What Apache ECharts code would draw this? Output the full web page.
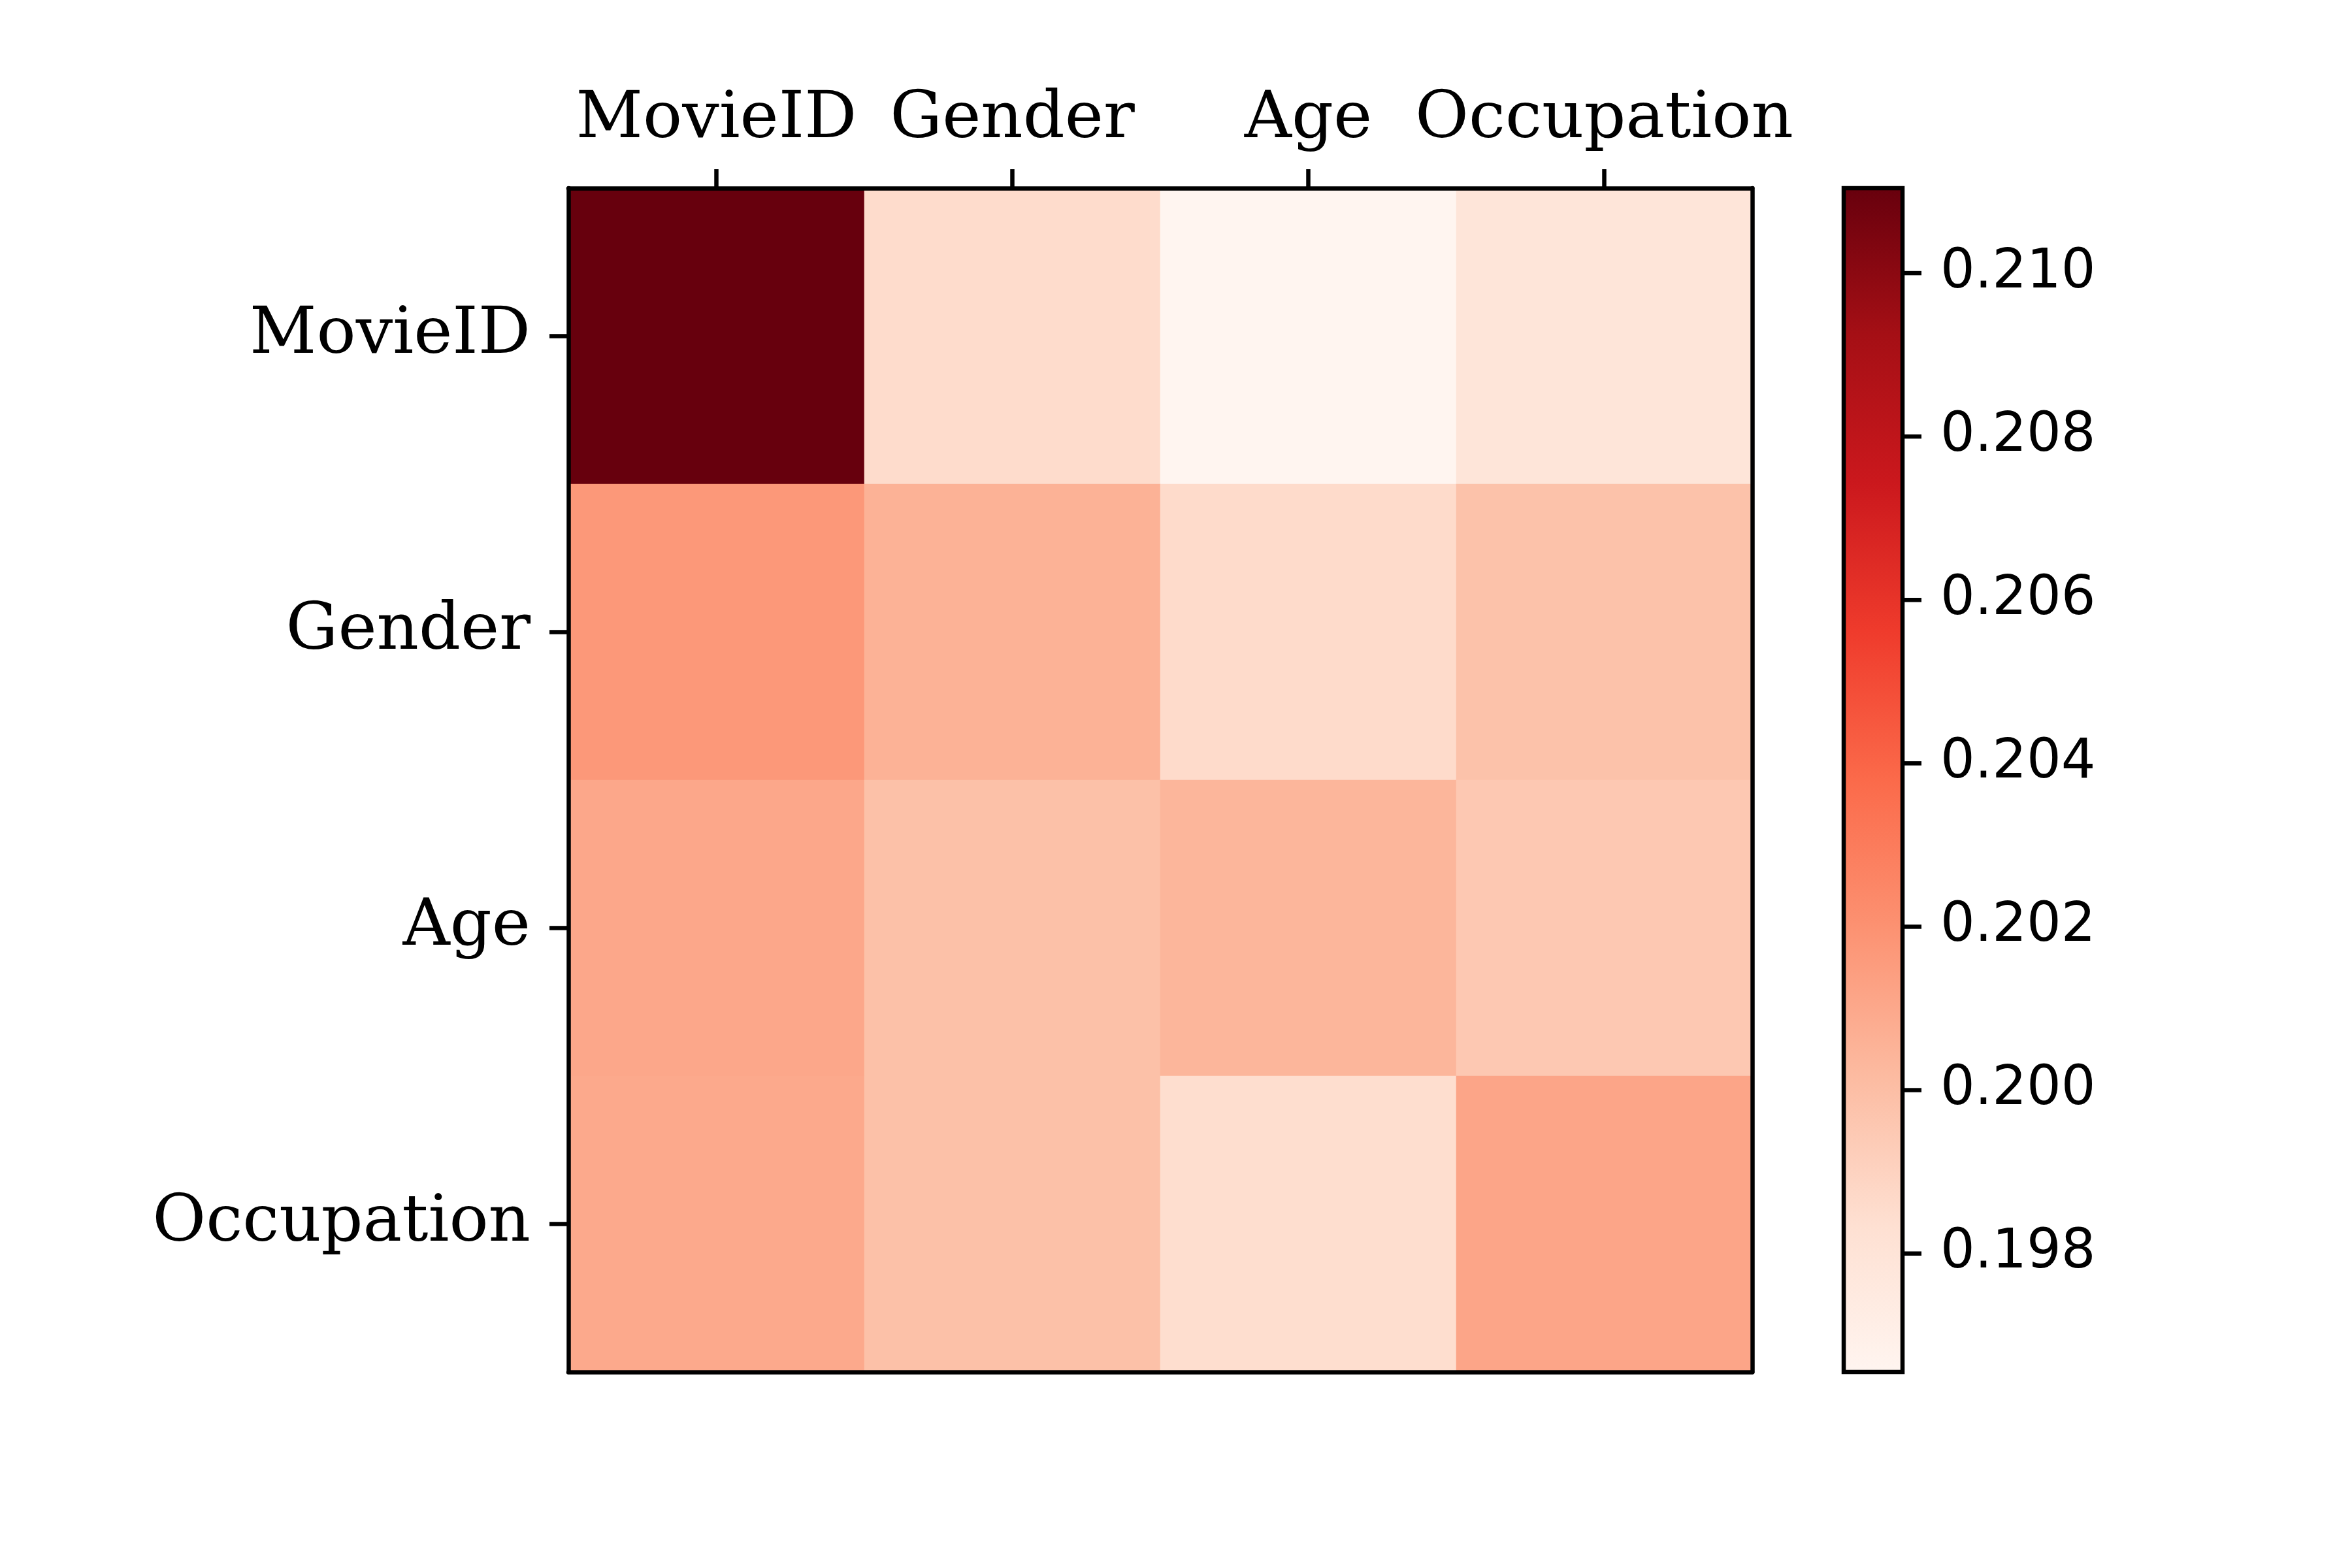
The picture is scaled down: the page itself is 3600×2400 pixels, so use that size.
<!DOCTYPE html>
<html>
<head>
    <meta charset="utf-8">
    <script src="https://cdn.jsdelivr.net/npm/echarts@6.0.0/dist/echarts.min.js"></script>
    <style>
        html, body { margin: 0; padding: 0; background: #fff; }
    </style>
</head>
<body>
<div id="main" style="width: 3600px;height:2400px;"></div>
<script type="text/javascript">
    // feature names (columns along the top, rows down the left)
    var features = ['MovieID', 'Gender', 'Age', 'Occupation'];

    // attention weights, one array per row
    var rowMovieID    = [0.21104, 0.19858, 0.19655, 0.19794];
    var rowGender     = [0.20173, 0.20058, 0.19862, 0.19984];
    var rowAge        = [0.20107, 0.19990, 0.20040, 0.19955];
    var rowOccupation = [0.20098, 0.19990, 0.19848, 0.20115];

    // colorbar tick labels
    var cbTicks = [0.198, 0.200, 0.202, 0.204, 0.206, 0.208, 0.210];

    // matplotlib "Reds"
    var reds = ['#fff5f0', '#fee0d2', '#fcbba1', '#fc9272', '#fb6a4a',
                '#ef3b2c', '#cb181d', '#a50f15', '#67000d'];

    var rows = [rowMovieID, rowGender, rowAge, rowOccupation];
    var cells = [];
    var all = [];
    rows.forEach(function (r, y) {
        r.forEach(function (v, x) {
            cells.push([x, y, v]);
            all.push(v);
        });
    });
    var vmin = Math.min.apply(null, all);
    var vmax = Math.max.apply(null, all);

    var lw = 6.5;       // ~0.8pt at 600 dpi
    var tickLen = 29;   // 3.5pt
    var serif = 'DejaVu Serif';
    var sans = 'DejaVu Sans';

    var gradStops = reds.map(function (c, i) {
        return { offset: 1 - i / (reds.length - 1), color: c };
    });

    var myChart = echarts.init(document.getElementById('main'));

    var option = {
        backgroundColor: '#fff',
        animation: false,
        grid: [
            { left: 870, top: 288, width: 1812, height: 1812 },
            { left: 2822, top: 288, width: 90, height: 1812 }
        ],
        xAxis: [
            {
                type: 'category', data: features, position: 'top', gridIndex: 0, z: 10,
                axisLine: { show: true, lineStyle: { color: '#000', width: lw } },
                axisTick: { show: true, alignWithLabel: true, length: tickLen, lineStyle: { color: '#000', width: lw } },
                axisLabel: { interval: 0, hideOverlap: false, margin: 54, fontSize: 100, fontFamily: serif, color: '#000' },
                splitLine: { show: false }
            },
            {
                type: 'category', data: features, position: 'bottom', gridIndex: 0, z: 10,
                axisLine: { show: true, lineStyle: { color: '#000', width: lw } },
                axisTick: { show: false }, axisLabel: { show: false }
            },
            {
                type: 'value', min: 0, max: 1, gridIndex: 1, show: false
            }
        ],
        yAxis: [
            {
                type: 'category', data: features, inverse: true, position: 'left', gridIndex: 0, z: 10,
                axisLine: { show: true, lineStyle: { color: '#000', width: lw } },
                axisTick: { show: true, alignWithLabel: true, length: tickLen, lineStyle: { color: '#000', width: lw } },
                axisLabel: { interval: 0, margin: 58, fontSize: 100, fontFamily: serif, color: '#000' },
                splitLine: { show: false }
            },
            {
                type: 'category', data: features, inverse: true, position: 'right', gridIndex: 0, z: 10,
                axisLine: { show: true, lineStyle: { color: '#000', width: lw } },
                axisTick: { show: false }, axisLabel: { show: false }
            },
            {
                type: 'value', gridIndex: 1, position: 'right', min: vmin, max: vmax, z: 10,
                axisLine: { show: false },
                splitLine: { show: false },
                axisTick: { show: false },
                axisLabel: { margin: 58, fontSize: 83, fontFamily: sans, color: '#000',
                             customValues: cbTicks,
                             formatter: function (v) { return v.toFixed(3); } }
            }
        ],
        visualMap: {
            show: false,
            type: 'continuous',
            seriesIndex: 0,
            dimension: 2,
            min: vmin,
            max: vmax,
            inRange: { color: reds }
        },
        series: [
            {
                type: 'heatmap',
                xAxisIndex: 0,
                yAxisIndex: 0,
                data: cells,
                emphasis: { disabled: true },
                itemStyle: { borderWidth: 0 }
            },
            {
                // colorbar: gradient box plus its tick marks
                type: 'custom',
                xAxisIndex: 2,
                yAxisIndex: 2,
                data: [[0, vmin, vmax]],
                encode: { x: 0, y: [1, 2] },
                z: 5,
                renderItem: function (params, api) {
                    var p0 = api.coord([0, api.value(1)]);
                    var p1 = api.coord([1, api.value(2)]);
                    var children = [{
                        type: 'rect',
                        shape: { x: p0[0], y: p1[1], width: p1[0] - p0[0], height: p0[1] - p1[1] },
                        style: {
                            fill: new echarts.graphic.LinearGradient(0, 0, 0, 1, gradStops),
                            stroke: '#000',
                            lineWidth: lw
                        }
                    }];
                    cbTicks.forEach(function (t) {
                        var p = api.coord([1, t]);
                        children.push({
                            type: 'line',
                            shape: { x1: p[0], y1: p[1], x2: p[0] + tickLen, y2: p[1] },
                            style: { stroke: '#000', lineWidth: lw }
                        });
                    });
                    return { type: 'group', children: children };
                }
            }
        ]
    };

    myChart.setOption(option);
</script>
</body>
</html>
